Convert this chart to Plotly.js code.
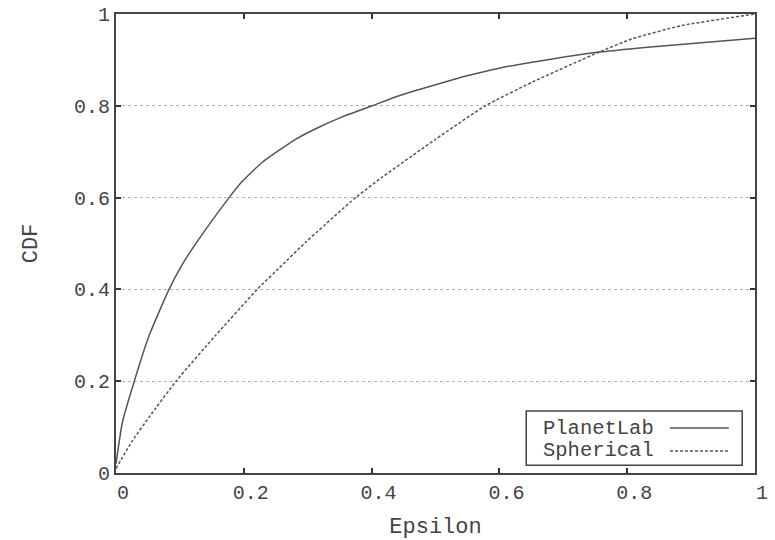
<!DOCTYPE html>
<html>
<head>
<meta charset="utf-8">
<script src="https://cdn.plot.ly/plotly-3.0.1.min.js"></script>
<style>html,body{margin:0;padding:0;background:#fff;}#chart{width:775px;height:540px;}</style>
</head>
<body>
<div id="chart"></div>
<script>
// Data
const seriesNames = ["PlanetLab", "Spherical"];
const planetLabX = [0, 0.01, 0.0286, 0.052, 0.083, 0.104, 0.13, 0.177, 0.198, 0.229, 0.281, 0.3125, 0.354, 0.401, 0.443, 0.5, 0.548, 0.6, 0.678, 0.756, 0.86, 1.0];
const planetLabY = [0.02, 0.11, 0.2, 0.30, 0.40, 0.455, 0.51, 0.60, 0.636, 0.677, 0.727, 0.75, 0.776, 0.8, 0.822, 0.846, 0.865, 0.882, 0.901, 0.917, 0.931, 0.947];
const sphericalX = [0, 0.026, 0.052, 0.094, 0.156, 0.221, 0.26, 0.297, 0.375, 0.417, 0.5, 0.578, 0.652, 0.756, 0.808, 0.886, 1.0];
const sphericalY = [0.01, 0.071, 0.122, 0.2, 0.3, 0.4, 0.453, 0.503, 0.6, 0.645, 0.727, 0.8, 0.852, 0.917, 0.946, 0.975, 1.0];
const xTickVals = [0, 0.2, 0.4, 0.6, 0.8, 1];
const xTickText = ["0", "0.2", "0.4", "0.6", "0.8", "1"];
const yTickVals = [0, 0.2, 0.4, 0.6, 0.8, 1];
const yTickText = ["0", "0.2", "0.4", "0.6", "0.8", "1"];
const xLabel = "Epsilon";
const yLabel = "CDF";

const FONT = "Liberation Mono, Courier New, monospace";
const TXT = "#444";
const LINE = "#555";

const traces = [
  {x: planetLabX, y: planetLabY, name: seriesNames[0], type: "scatter", mode: "lines",
   line: {color: LINE, width: 1.5, shape: "spline", smoothing: 0.5}, showlegend: false},
  {x: sphericalX, y: sphericalY, name: seriesNames[1], type: "scatter", mode: "lines",
   line: {color: LINE, width: 1.5, dash: "3px,2px", shape: "spline", smoothing: 0.5}, showlegend: false}
];

const layout = {
  width: 775, height: 540,
  margin: {l: 116, r: 20, t: 14, b: 67},
  paper_bgcolor: "#fff", plot_bgcolor: "#fff",
  font: {family: FONT, size: 20, color: TXT},
  showlegend: false,
  xaxis: {
    range: [0, 1], tickvals: xTickVals, ticktext: xTickText,
    ticks: "inside", ticklen: 5, tickwidth: 2, tickcolor: "#333",
    showline: true, linecolor: "#444", linewidth: 2, mirror: "ticks",
    showgrid: false, zeroline: false, ticklabelshift: 7,
    tickfont: {family: FONT, size: 20, color: TXT},
    title: {text: xLabel, font: {family: FONT, size: 22, color: TXT}, standoff: 20}
  },
  yaxis: {
    range: [0, 1], tickvals: yTickVals, ticktext: yTickText,
    ticks: "inside", ticklen: 5, tickwidth: 2, tickcolor: "#333",
    showline: true, linecolor: "#444", linewidth: 2, mirror: "ticks",
    showgrid: true, gridcolor: "#b0b0b0", griddash: "dot", gridwidth: 1, zeroline: false,
    tickfont: {family: FONT, size: 20, color: TXT},
    title: {text: yLabel, font: {family: FONT, size: 22, color: TXT}, standoff: 30}
  },
  shapes: [
    {type: "rect", xref: "x", yref: "y", x0: 0.642, x1: 0.980, y0: 0.017, y1: 0.135,
     line: {color: "#444", width: 1.5}, fillcolor: "#fff", layer: "above"},
    {type: "line", xref: "x", yref: "y", x0: 0.867, x1: 0.959, y0: 0.098, y1: 0.098,
     line: {color: LINE, width: 1.5}},
    {type: "line", xref: "x", yref: "y", x0: 0.867, x1: 0.959, y0: 0.048, y1: 0.048,
     line: {color: LINE, width: 1.5, dash: "3px,2px"}}
  ],
  annotations: [
    {xref: "x", yref: "y", x: 0.845, y: 0.098, text: seriesNames[0], showarrow: false,
     xanchor: "right", yanchor: "middle", font: {family: FONT, size: 20.5, color: TXT}},
    {xref: "x", yref: "y", x: 0.845, y: 0.048, text: seriesNames[1], showarrow: false,
     xanchor: "right", yanchor: "middle", font: {family: FONT, size: 20.5, color: TXT}}
  ]
};

Plotly.newPlot("chart", traces, layout, {displayModeBar: false, staticPlot: true});
</script>
</body>
</html>
